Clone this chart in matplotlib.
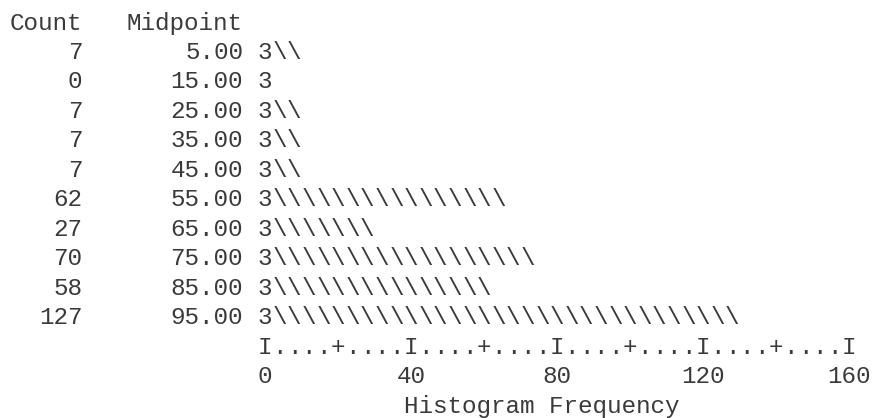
import matplotlib.pyplot as plt

# Datos del histograma (salida de texto tipo SPSS)
midpoints = [5.0, 15.0, 25.0, 35.0, 45.0, 55.0, 65.0, 75.0, 85.0, 95.0]
counts = [7, 0, 7, 7, 7, 62, 27, 70, 58, 127]
ticks = [0, 40, 80, 120, 160]
step = 4  # frecuencia representada por cada caracter

plt.rcParams['font.family'] = ['Liberation Mono', 'DejaVu Sans Mono']
fs = 17.5
col = '#3a3a3a'

fig = plt.figure(figsize=(8.72, 4.18), dpi=100)
ax = fig.add_axes([265/872, 0, 584/872, 1])
ax.set_xlim(0, 160)
ax.set_ylim(12.475, -1.695)
ax.axis('off')

def txt(x, y, s, ha='center'):
    ax.text(x, y, s, ha=ha, va='center_baseline', fontsize=fs, color=col, clip_on=False)

# Encabezados
txt(-70, -1, "Count", ha='left')
txt(-38, -1, "Midpoint", ha='left')

# Filas: cuenta, punto medio y barra de barras invertidas
for i in range(len(counts)):
    txt(-50, i, str(counts[i]), ha='right')
    txt(-6, i, "%.2f" % midpoints[i], ha='right')
    txt(0, i, "3")
    n = int(counts[i] / step + 0.5)
    for k in range(1, n + 1):
        txt(step * k, i, "\\")

# Eje horizontal
row = len(counts)
for k in range(0, 160 // step + 1):
    v = k * step
    if v % 40 == 0:
        c = "I"
    elif v % 20 == 0:
        c = "+"
    else:
        c = "."
    txt(v, row, c)
for t in ticks:
    txt(t, row + 1, str(t))
txt(38, row + 2, "Histogram Frequency", ha='left')

plt.savefig("out.png", dpi=100, facecolor='white')
